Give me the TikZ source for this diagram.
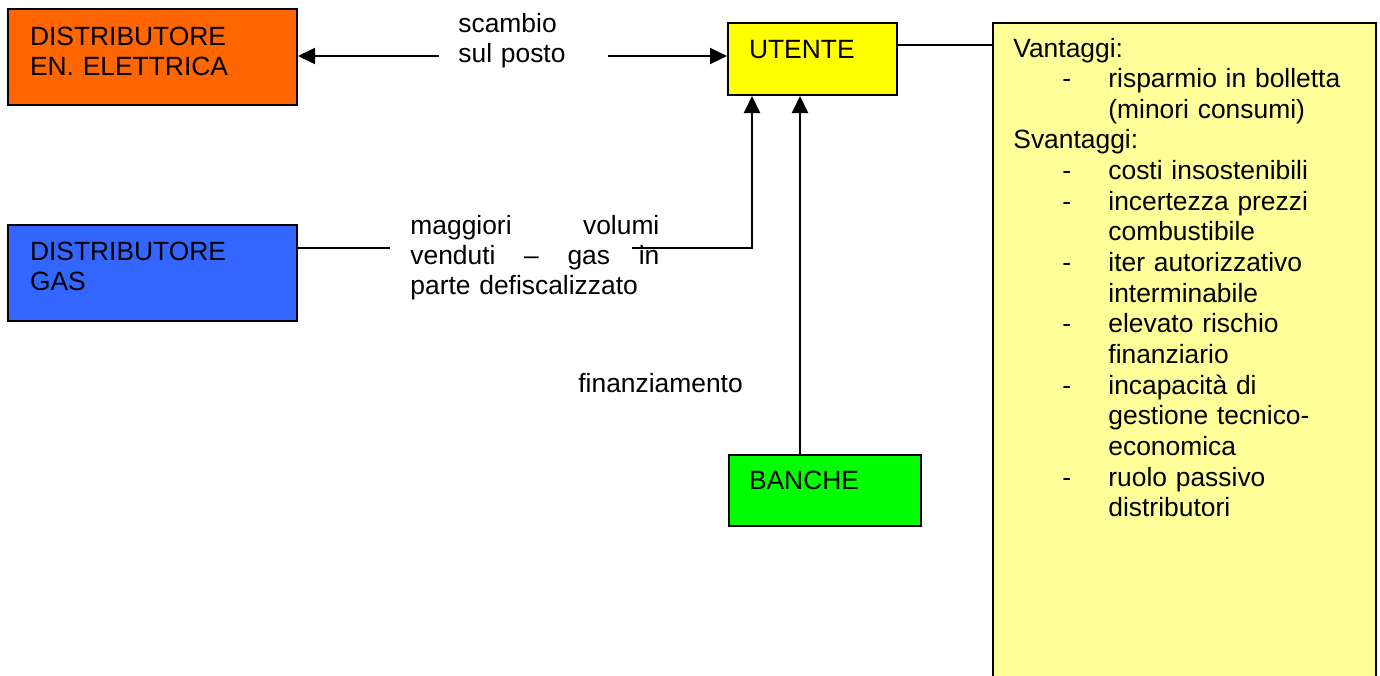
\documentclass[tikz,border=0pt]{standalone}
\usepackage{fontspec}
\setmainfont{Liberation Sans}
\usetikzlibrary{arrows.meta}

\definecolor{cElet}{RGB}{255,102,0}
\definecolor{cGas}{RGB}{51,102,255}
\definecolor{cUtente}{RGB}{255,255,0}
\definecolor{cBanche}{RGB}{0,255,0}
\definecolor{cNote}{RGB}{255,255,153}

\newcommand\voce[1]{\hspace*{24.5pt}\makebox[23pt][l]{-}#1}
\newcommand\segue[1]{\hspace*{47.5pt}#1}

\begin{document}
\begin{tikzpicture}[x=0.5pt,y=0.5pt]

\tikzset{
  blk/.style  = {draw, line width=1pt, anchor=north west, align=left,
                 inner ysep=0pt, inner xsep=11pt,
                 font=\fontsize{13.2}{15}\selectfont},
  flow/.style = {-{Triangle[length=8.5pt,width=8pt]}, line width=1pt},
  wire/.style = {line width=1pt},
  lbl/.style  = {anchor=base west, inner sep=0pt, align=left,
                 font=\fontsize{13.2}{15}\selectfont},
}

\useasboundingbox (0,0) rectangle (1380,-675);

\node[blk, fill=cElet, text width=122.5pt, text height=18pt, text depth=30pt] (elet) at (7,-8) {DISTRIBUTORE\\EN. ELETTRICA};
\node[blk, fill=cGas, text width=122.5pt, text height=17.5pt, text depth=30.5pt] (gas) at (7,-224) {DISTRIBUTORE\\GAS};
\node[blk, fill=cUtente, inner xsep=10.5pt, text width=63.5pt, text height=17.5pt, text depth=18.5pt] (utente) at (727,-22) {UTENTE};
\node[blk, fill=cBanche, inner xsep=10pt, text width=76pt, text height=17pt, text depth=18.5pt] (banche) at (728,-454) {BANCHE};
\node[blk, fill=cNote, minimum width=191.5pt, minimum height=345pt] (pro) at (992,-22) {};

\node[lbl, text width=60pt] (scambio) at (458,-32) {scambio\\sul posto};
\node[lbl, text width=124.5pt] (volumi) at (410,-234) {maggiori\hfill volumi\\venduti\hfill --\hfill gas\hfill in\\parte defiscalizzato};
\node[lbl] (fin) at (578,-392) {finanziamento};
\node[lbl, text width=170pt, font=\fontsize{13.2}{15.33}\selectfont] (lista) at (1013,-57) {Vantaggi:\\
  \voce{risparmio in bolletta}\\
  \segue{(minori consumi)}\\
  Svantaggi:\\
  \voce{costi insostenibili}\\
  \voce{incertezza prezzi}\\
  \segue{combustibile}\\
  \voce{iter autorizzativo}\\
  \segue{interminabile}\\
  \voce{elevato rischio}\\
  \segue{finanziario}\\
  \voce{incapacità di}\\
  \segue{gestione tecnico-}\\
  \segue{economica}\\
  \voce{ruolo passivo}\\
  \segue{distributori}};

\coordinate (sL) at (439,-56);
\coordinate (sR) at (608,-56);
\coordinate (gL) at (390,-248);
\coordinate (gR) at (632,-248);

\draw[flow] (sL) -- (elet.east |- sL);
\draw[flow] (sR) -- (utente.west |- sR);
\draw[wire] (gas.east |- gL) -- (gL);
\draw[flow] (gR) -| ([xshift=12.5pt]utente.south west);
\draw[flow] ([xshift=-12.5pt]banche.north) -- ([xshift=-12.5pt]banche.north |- utente.south);
\draw[wire] ([yshift=-11.5pt]utente.north east) -- ([yshift=-11.5pt]utente.north east -| pro.west);

\end{tikzpicture}
\end{document}
